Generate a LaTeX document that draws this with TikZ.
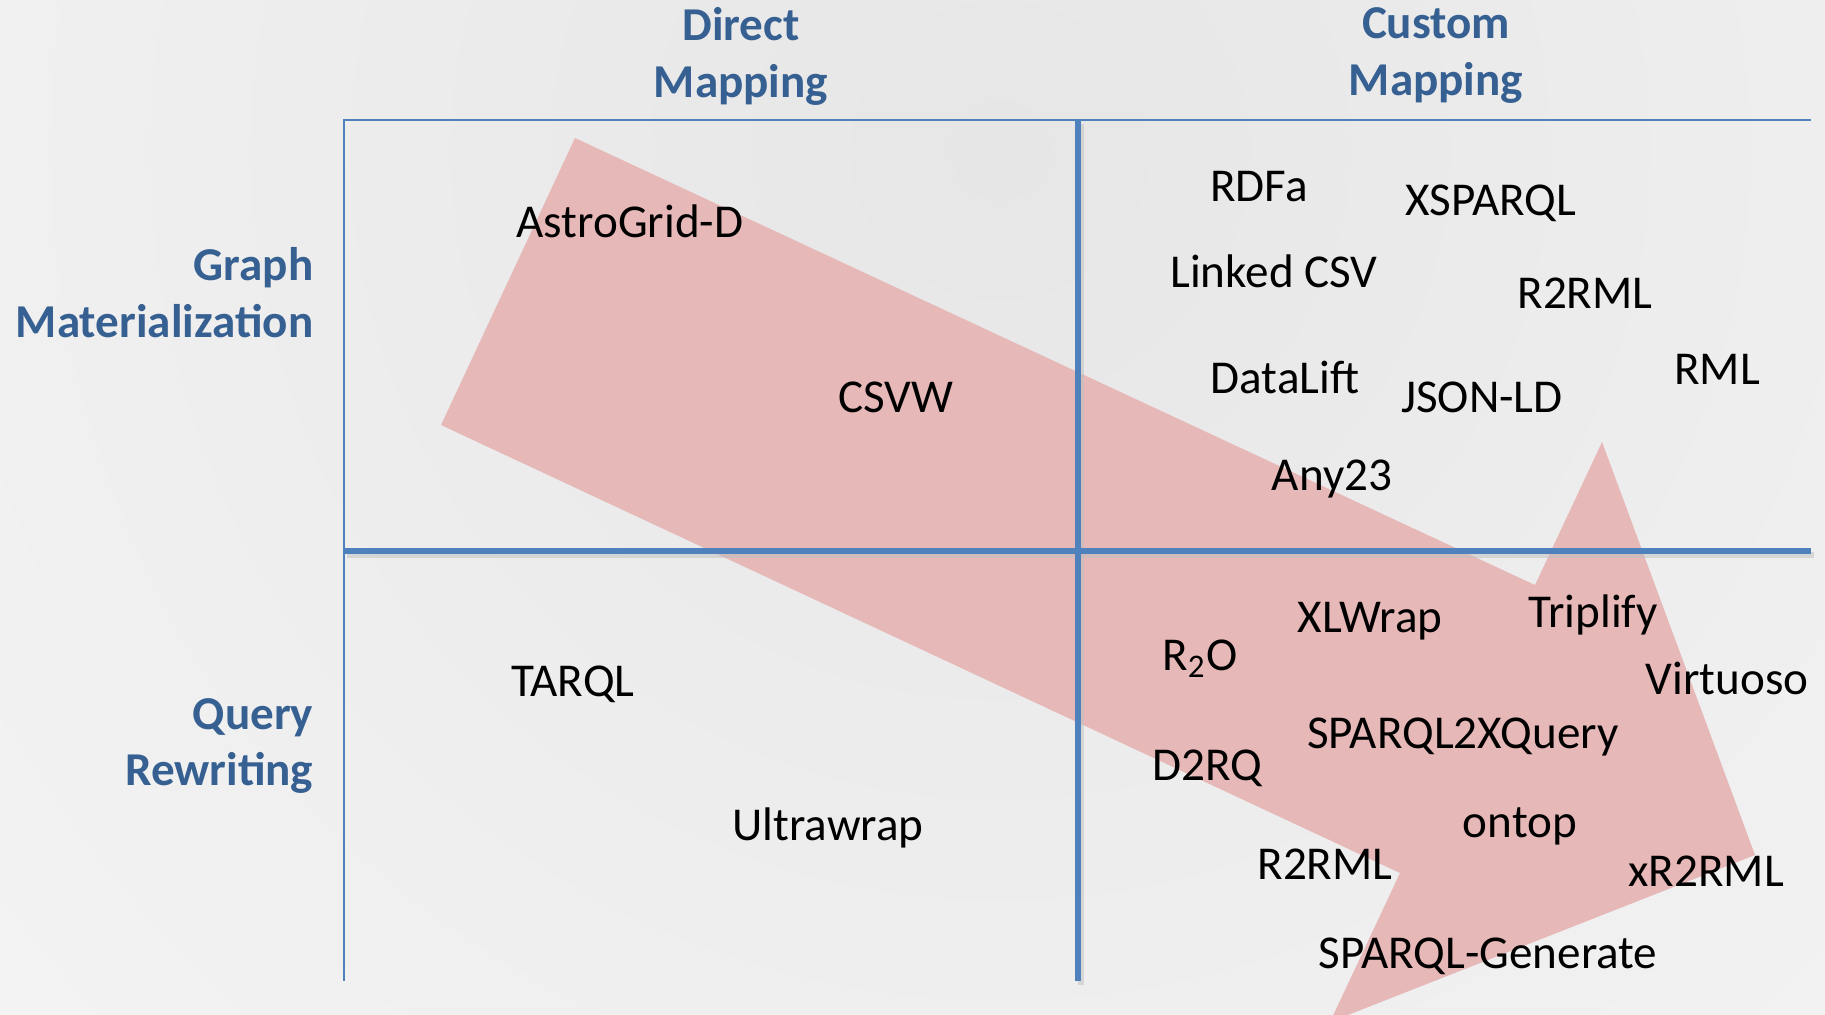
\documentclass[tikz,border=0pt]{standalone}
\usepackage{fontspec}
\setmainfont{Carlito}
\usetikzlibrary{calc, positioning}
\definecolor{headblue}{HTML}{376092}
\definecolor{lineblue}{HTML}{4F81BD}
\definecolor{arrowpink}{HTML}{E6B8B7}
\definecolor{bgdark}{HTML}{E6E6E6}
\definecolor{bglight}{HTML}{FAFAFA}
\tikzset{
% labels
tool/.style={anchor=base, inner sep=0pt, font=\fontsize{13.4}{16.2}\selectfont},
head/.style={align=center, inner sep=0pt, text=headblue, font=\fontsize{13.4}{16.2}\selectfont\bfseries},
% axes
thinaxis/.style={draw=lineblue, line width=0.6pt},
thickaxis/.style={draw=lineblue, line width=1.7pt},
axisshadow/.style={draw=black!25, line width=1.7pt, opacity=0.5},
}

\begin{document}
\begin{tikzpicture}[x=0.01cm, y=-0.01cm]
\clip (0,0) rectangle (1825,1014);
% Background
\shade[inner color=bgdark, outer color=bglight] (1000,150) circle (2000);

% Arrow
\fill[arrowpink] (575,138) -- (1535,585) -- (1602,442) -- (1755,855) -- (1330,1022) -- (1400,873) -- (441,425) -- cycle;

% Axes
\coordinate (topleft) at (344,120);
\coordinate (topright) at (1811,120);
\coordinate (midtop) at (1078,120);
\coordinate (midbottom) at (1078,981);
\coordinate (leftmid) at (344,551);
\coordinate (rightmid) at (1811,551);
\coordinate (leftbottom) at (344,981);

\draw[thinaxis] (leftbottom) -- (topleft) -- (topright);
\draw[axisshadow] ([shift={(3,4)}]leftmid) -- ([shift={(3,4)}]rightmid);
\draw[axisshadow] ([shift={(3,4)}]midtop) -- ([shift={(3,4)}]midbottom);
\draw[thickaxis] (leftmid) -- (rightmid);
\draw[thickaxis] (midtop) -- (midbottom);

% Headings
\node (direct) [head] at (741,56) {Direct\\Mapping};
\node (custom) [head] at (1436,56) {Custom\\Mapping};
\node (graph) [head, anchor=east, align=right] at (314,293) {Graph\\Materialization};
\node (query) [head, anchor=east, align=right] at (314,746) {Query\\Rewriting};

% Tools
\node (astrogrid) [tool] at (630,237) {AstroGrid-D};
\node (csvw) [tool] at (896,412) {CSVW};
\node (rdfa) [tool] at (1259,201) {RDFa};
\node (xsparql) [tool] at (1491,215) {XSPARQL};
\node (linkedcsv) [tool] at (1274,287) {Linked CSV};
\node (rtworml) [tool] at (1585,308) {R2RML};
\node (rml) [tool] at (1717,384) {RML};
\node (datalift) [tool] at (1285,393) {DataLift};
\node (jsonld) [tool] at (1482,412) {JSON-LD};
\node (anytt) [tool] at (1332,490) {Any23};
\node (xlwrap) [tool] at (1370,632) {XLWrap};
\node (triplify) [tool] at (1593,627) {Triplify};
\node (rto) [tool] at (1200,670) {R\textsubscript{2}O};
\node (virtuoso) [tool] at (1727,694) {Virtuoso};
\node (tarql) [tool] at (573,696) {TARQL};
\node (sparqlxq) [tool] at (1463,748) {SPARQL2XQuery};
\node (dtrq) [tool] at (1207,780) {D2RQ};
\node (ultrawrap) [tool] at (828,840) {Ultrawrap};
\node (ontop) [tool] at (1520,837) {ontop};
\node (rtwormlq) [tool] at (1325,879) {R2RML};
\node (xrtworml) [tool] at (1706,886) {xR2RML};
\node (sparqlgen) [tool] at (1488,968) {SPARQL-Generate};
\end{tikzpicture}
\end{document}
